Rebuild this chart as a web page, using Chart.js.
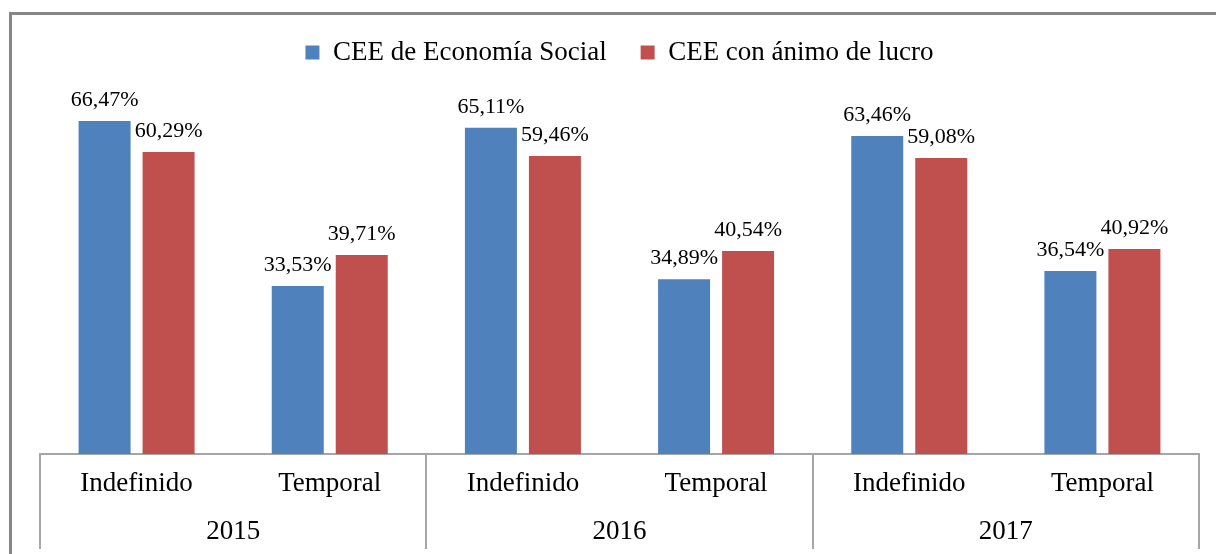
<!DOCTYPE html>
<html>
<head>
<meta charset="utf-8">
<script src="https://cdn.jsdelivr.net/npm/chart.js@4/dist/chart.umd.min.js"></script>
<style>
  html, body { margin: 0; padding: 0; background: #ffffff; overflow: hidden; }
  #wrap { position: relative; width: 1216px; height: 554px; }
  #frame { position: absolute; left: 9px; top: 12px; width: 1300px; height: 700px;
           border-left: 3px solid #878787; border-top: 3px solid #878787; box-sizing: border-box; }
  canvas { position: absolute; left: 0; top: 0; }
</style>
</head>
<body>
<div id="wrap">
  <div id="frame"></div>
  <canvas id="c" width="1216" height="554"></canvas>
</div>
<script>
const categories = ['Indefinido', 'Temporal', 'Indefinido', 'Temporal', 'Indefinido', 'Temporal'];
const years = ['2015', '2016', '2017'];
const seriesNames = ['CEE de Economía Social', 'CEE con ánimo de lucro'];
const economiaSocial = [66.47, 33.53, 65.11, 34.89, 63.46, 36.54];
const animoLucro = [60.29, 39.71, 59.46, 40.54, 59.08, 40.92];

const FONT = '"Liberation Serif", "Times New Roman", serif';
const GRID_GREY = '#A6A6A6';

const fmt = v => v.toFixed(2).replace('.', ',') + '%';

const valueLabels = {
  id: 'valueLabels',
  afterDatasetsDraw(chart) {
    const ctx = chart.ctx;
    ctx.save();
    ctx.font = '22px ' + FONT;
    ctx.fillStyle = '#000000';
    ctx.textAlign = 'center';
    ctx.textBaseline = 'alphabetic';
    chart.data.datasets.forEach((ds, i) => {
      chart.getDatasetMeta(i).data.forEach((bar, j) => {
        ctx.fillText(fmt(ds.data[j]), bar.x, bar.y - 15);
      });
    });
    ctx.restore();
  }
};

new Chart(document.getElementById('c'), {
  type: 'bar',
  data: {
    labels: categories,
    datasets: [
      { label: seriesNames[0], data: economiaSocial, backgroundColor: '#4F81BD', borderWidth: 0,
        categoryPercentage: 0.6626, barPercentage: 0.8125, xAxisID: 'x' },
      { label: seriesNames[1], data: animoLucro, backgroundColor: '#C0504D', borderWidth: 0,
        categoryPercentage: 0.6626, barPercentage: 0.8125, xAxisID: 'x' }
    ]
  },
  options: {
    responsive: false,
    animation: false,
    devicePixelRatio: 1,
    layout: { padding: { top: 5, left: 40, right: 17, bottom: 6 } },
    plugins: {
      tooltip: { enabled: false },
      legend: {
        position: 'top',
        labels: {
          boxWidth: 14, boxHeight: 14, padding: 34,
          color: '#000000',
          font: { family: FONT, size: 27 }
        }
      }
    },
    scales: {
      x: {
        type: 'category',
        weight: 0,
        offset: true,
        grid: {
          display: true, offset: true, drawOnChartArea: false, drawTicks: true,
          tickLength: 95, tickWidth: 2, lineWidth: 2,
          tickColor: c => (c.index === undefined || c.index % 2 === 0) ? GRID_GREY : 'rgba(0,0,0,0)'
        },
        border: { display: true, color: GRID_GREY, width: 2 },
        ticks: {
          color: '#000000', font: { family: FONT, size: 27 },
          padding: -81, autoSkip: false, maxRotation: 0, minRotation: 0
        },
        afterFit: s => { s.height = 46; }
      },
      x2: {
        type: 'category',
        position: 'bottom',
        weight: 1,
        labels: years,
        offset: true,
        grid: { display: false, drawTicks: false, drawOnChartArea: false },
        border: { display: false },
        ticks: {
          color: '#000000', font: { family: FONT, size: 27 },
          padding: 16, autoSkip: false, maxRotation: 0, minRotation: 0
        },
        afterFit: s => { s.height = 48; }
      },
      y: {
        display: false,
        min: 0,
        max: 75.45
      }
    }
  },
  plugins: [valueLabels]
});
</script>
</body>
</html>
